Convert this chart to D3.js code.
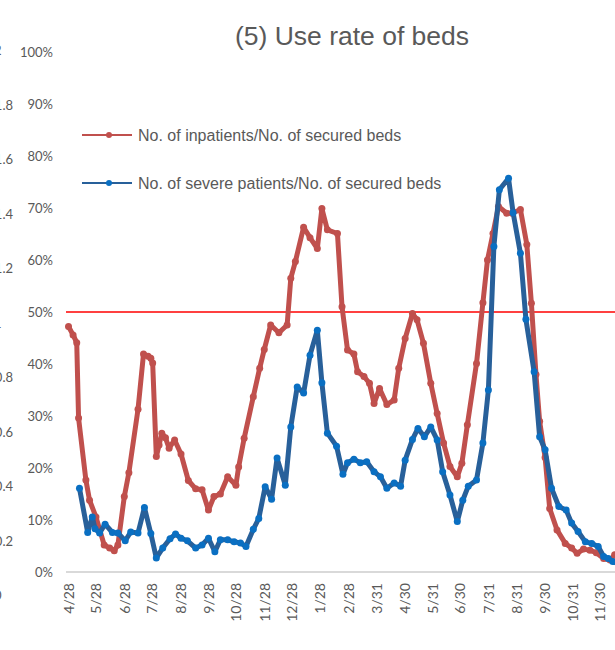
<!DOCTYPE html>
<html>
<head>
<meta charset="utf-8">
<script src="https://cdn.jsdelivr.net/npm/d3@7/dist/d3.min.js"></script>
<style>
  html, body { margin: 0; padding: 0; background: #fff; }
  svg { display: block; }
</style>
</head>
<body>
<svg id="chart" width="615" height="650"></svg>
<script>
// ---- data ----
const startDate = "2020-04-28";
const endDate = "2021-11-30";

// days since 2020-04-28, and use rate (%)
const redDays = [0,5,9,11,19,23,30,39,45,50,54,61,66,76,82,87,90,92,96,99,102,106,110,116,123,131,139,146,153,159,166,174,183,186,192,202,209,214,221,230,239,243,248,257,264,272,277,283,294,299,305,312,316,323,329,334,340,348,356,361,368,376,381,388,396,403,410,417,425,430,436,446,453,458,464,470,479,485,494,501,506,511,515,521,526,534,543,550,556,563,570,577,585,592,597,603];
const redValues = [47.2,45.6,44.1,29.6,17.7,13.8,10.6,5.2,4.6,4.1,5.2,14.5,19.1,31.3,41.9,41.5,41.1,40.2,22.2,24.4,26.7,25.8,23.8,25.4,22.7,17.6,16.0,15.8,11.9,14.5,15.0,18.3,16.7,20.2,25.7,33.7,39.2,42.8,47.5,46.0,47.5,56.5,59.7,66.3,64.3,62.2,69.9,65.8,65.1,51.0,42.7,41.9,38.5,37.6,36.3,32.4,35.3,32.2,33.1,39.2,44.9,49.7,48.5,44.0,36.3,30.5,24.8,20.3,18.3,20.9,28.3,40.1,51.8,60.0,65.1,70.3,69.0,69.0,69.7,63.0,51.7,38.0,29.0,22.0,12.2,8.1,5.5,4.6,3.6,4.4,4.2,3.7,2.6,2.3,3.3,3.0];

const blueDays = [12,21,26,29,34,40,48,54,62,68,76,83,90,96,103,111,117,123,130,139,146,153,160,166,174,181,188,194,202,208,215,222,228,237,243,250,257,264,272,277,283,293,300,305,312,319,326,334,341,348,356,363,368,376,382,389,396,403,409,417,425,431,437,446,453,459,465,471,481,486,494,500,509,515,521,528,536,544,550,557,565,572,579,585,590,595,601];
const blueValues = [16.1,7.6,10.6,8.3,7.5,9.2,7.6,7.5,6.0,7.7,7.5,12.4,7.4,2.7,4.6,6.4,7.3,6.5,6.0,4.6,5.2,6.5,3.9,6.2,6.2,5.8,5.6,4.9,8.2,10.3,16.4,14.0,21.9,16.7,27.9,35.6,34.4,41.7,46.5,36.4,26.7,24.2,18.8,21.0,21.7,21.0,21.2,19.3,18.3,16.1,17.1,16.5,21.5,25.5,27.6,26.0,27.9,25.4,19.3,14.8,9.7,13.8,16.5,17.7,24.8,35.0,62.6,73.5,75.7,69.1,61.3,48.6,38.5,26.0,23.5,16.1,12.6,11.9,9.4,7.8,5.8,5.5,4.9,3.0,2.6,2.0,1.6];

const yTicks = [0,10,20,30,40,50,60,70,80,90,100];
const referenceLevel = 50;
const xTickDates = ["2020-04-28","2020-05-28","2020-06-28","2020-07-28","2020-08-28","2020-09-28","2020-10-28","2020-11-28","2020-12-28","2021-01-28","2021-02-28","2021-03-31","2021-04-30","2021-05-31","2021-06-30","2021-07-31","2021-08-31","2021-09-30","2021-10-31","2021-11-30"];
const xTickLabels = ["4/28","5/28","6/28","7/28","8/28","9/28","10/28","11/28","12/28","1/28","2/28","3/31","4/30","5/31","6/30","7/31","8/31","9/30","10/31","11/30"];
const seriesNames = ["No. of inpatients/No. of secured beds","No. of severe patients/No. of secured beds"];
const titleText = "(5) Use rate of beds";
// partially visible axis labels of the neighbouring chart at the left edge
const neighborTicks = [2,1.8,1.6,1.4,1.2,1,0.8,0.6,0.4,0.2,0];

// ---- drawing ----
const svg = d3.select("#chart");
const parse = d3.utcParse("%Y-%m-%d");
const t0 = parse(startDate);
const dayToDate = d => d3.utcDay.offset(t0, d);

const x = d3.scaleUtc().domain([t0, parse(endDate)]).range([68.5, 600]);
const y = d3.scaleLinear().domain([0, 100]).range([572, 52]);

const textColor = "#595959";
const fontAxis = "Lato, 'Open Sans', sans-serif";
const fontTitle = "'Liberation Sans', Arial, sans-serif";

// neighbour labels (clipped at left edge, as in the reference)
const ny = d3.scaleLinear().domain([2, 0]).range([50, 595]);
svg.append("g").selectAll("text").data(neighborTicks).join("text")
  .attr("x", d => Number.isInteger(d) ? 1.5 : 13)
  .attr("y", d => ny(d))
  .attr("text-anchor", "end")
  .attr("dominant-baseline", "central")
  .style("font-family", fontAxis).style("font-size", "13px").attr("fill", textColor)
  .text(d => d3.format(".1~f")(d));

// title
svg.append("text").attr("x", 352).attr("y", 45).attr("text-anchor", "middle")
  .style("font-family", fontTitle).style("font-size", "26.5px").attr("fill", textColor)
  .text(titleText);

// y axis labels
const yAxis = d3.axisLeft(y).tickValues(yTicks).tickSize(0).tickPadding(0).tickFormat(d => d + "%");
const gy = svg.append("g").attr("transform", "translate(53,0)").call(yAxis);
gy.select(".domain").remove();
gy.selectAll("text").style("font-family", fontAxis).style("font-size", "13px").attr("fill", textColor).attr("dy", "0.32em");

// x axis baseline
svg.append("line").attr("x1", 66).attr("x2", 615).attr("y1", y(0)).attr("y2", y(0))
  .attr("stroke", "#d9d9d9").attr("stroke-width", 2);

// x axis labels
const xAxis = d3.axisBottom(x).tickValues(xTickDates.map(parse)).tickSize(0)
  .tickFormat((d, i) => xTickLabels[i]);
const gx = svg.append("g").attr("transform", `translate(0,${y(0)})`).call(xAxis);
gx.select(".domain").remove();
gx.selectAll("text")
  .attr("transform", "translate(0,11) rotate(-90)")
  .attr("x", 0).attr("y", 0).attr("dy", "0.35em")
  .attr("text-anchor", "end")
  .style("font-family", fontAxis).style("font-size", "14px").attr("fill", textColor);

// 50% reference line
svg.append("line").attr("x1", 66).attr("x2", 615).attr("y1", y(referenceLevel)).attr("y2", y(referenceLevel))
  .attr("stroke", "#ff0000").attr("stroke-width", 1.6);

const series = [
  { days: redDays, values: redValues, line: "#c0504d", marker: "#c0504d" },
  { days: blueDays, values: blueValues, line: "#28609a", marker: "#0a6fc2" }
];

const lineGen = d3.line().x(d => x(d.date)).y(d => y(d.v));

series.forEach(s => {
  const pts = s.days.map((d, i) => ({ date: dayToDate(d), v: s.values[i] }));
  const g = svg.append("g");
  g.append("path").datum(pts).attr("d", lineGen)
    .attr("fill", "none").attr("stroke", s.line).attr("stroke-width", 5)
    .attr("stroke-linejoin", "round").attr("stroke-linecap", "round");
  g.selectAll("circle").data(pts).join("circle")
    .attr("cx", d => x(d.date)).attr("cy", d => y(d.v)).attr("r", 3.5)
    .attr("fill", s.marker);
});

// legend
const legend = svg.append("g");
series.forEach((s, i) => {
  const ly = 135 + i * 48;
  legend.append("line").attr("x1", 82).attr("x2", 132).attr("y1", ly).attr("y2", ly)
    .attr("stroke", s.line).attr("stroke-width", 2.2);
  legend.append("circle").attr("cx", 109).attr("cy", ly).attr("r", 3).attr("fill", s.marker);
  legend.append("text").attr("x", 138).attr("y", ly).attr("dy", "0.35em")
    .style("font-family", fontTitle).style("font-size", "16px").attr("fill", textColor)
    .text(seriesNames[i]);
});
</script>
</body>
</html>
